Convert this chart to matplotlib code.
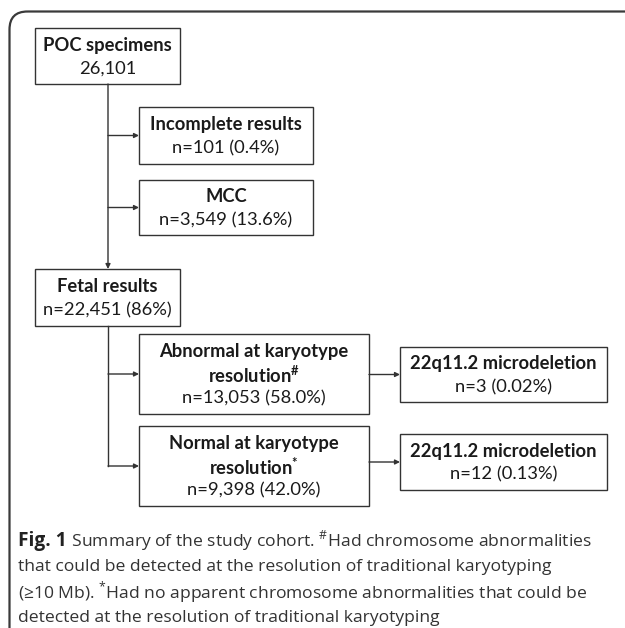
import matplotlib
matplotlib.use("Agg")
import matplotlib.pyplot as plt
from matplotlib.patches import Rectangle, FancyBboxPatch

plt.rcParams['font.family'] = ['Lato', 'DejaVu Sans']
plt.rcParams['mathtext.fontset'] = 'custom'
plt.rcParams['mathtext.rm'] = 'Open Sans'
plt.rcParams['mathtext.bf'] = 'Lato:bold'

# flowchart content
titles = ["POC specimens", "Incomplete results", "MCC", "Fetal results",
          "Abnormal at karyotype|resolution#", "Normal at karyotype|resolution*",
          "22q11.2 microdeletion", "22q11.2 microdeletion"]
counts = [26101, 101, 3549, 22451, 13053, 9398, 3, 12]
percents = [None, "0.4%", "13.6%", "86%", "58.0%", "42.0%", "0.02%", "0.13%"]

caption_bold = "Fig. 1"
caption_lines = [
    " Summary of the study cohort. $^{\\#}$Had chromosome abnormalities",
    "that could be detected at the resolution of traditional karyotyping",
    "(\u226510 Mb). $^{*}$Had no apparent chromosome abnormalities that could be",
    "detected at the resolution of traditional karyotyping",
]

# box geometry in pixels: x0, y0, x1, y1
boxes = [
    (35, 28, 180, 84),
    (139, 107, 313, 164),
    (139, 180, 313, 235),
    (35, 269, 180, 326),
    (139, 334, 369, 414),
    (139, 426, 369, 506),
    (400, 347, 607, 402),
    (400, 434, 607, 490),
]

W, H = 625, 628
fig = plt.figure(figsize=(W / 100, H / 100), dpi=100)
ax = fig.add_axes([0, 0, 1, 1])
ax.set_xlim(0, W)
ax.set_ylim(H, 0)
ax.axis('off')

edge = '#333333'
txt = '#1a1a1a'

# outer rounded frame (runs off the right and bottom edges)
frame = FancyBboxPatch((9.5, 11.5), 800, 800, boxstyle="round,pad=0,rounding_size=18",
                       fill=False, edgecolor='#3a3a3a', linewidth=1.6, clip_on=True)
ax.add_patch(frame)

fs = 13.2
line_gap = 23.5
for (x0, y0, x1, y1), title, n, pct in zip(boxes, titles, counts, percents):
    ax.add_patch(Rectangle((x0, y0), x1 - x0, y1 - y0, fill=False,
                           edgecolor=edge, linewidth=1.0))
    rows = []
    for part in title.split('|'):
        if part.endswith('#'):
            rows.append((part[:-1] + r"$^{\mathbf{\#}}$", 'bold'))
        elif part.endswith('*'):
            rows.append((part[:-1] + r"$^{\mathbf{*}}$", 'bold'))
        else:
            rows.append((part, 'bold'))
    if pct is None:
        rows.append((f"{n:,}", 'normal'))
    else:
        rows.append((f"n={n:,} ({pct})", 'normal'))
    cx = (x0 + x1) / 2
    cy = (y0 + y1) / 2 + 1
    k = len(rows)
    for i, (s, w) in enumerate(rows):
        yy = cy + (i - (k - 1) / 2) * line_gap
        ax.text(cx, yy, s, ha='center', va='center', fontsize=fs,
                fontweight=w, color=txt)

arrow = dict(arrowstyle='-|>', color=edge, lw=1.0, mutation_scale=7,
             shrinkA=0, shrinkB=0)
trunk_x = 108

# trunk from POC down to Fetal results
ax.annotate('', xy=(trunk_x, boxes[3][1]), xytext=(trunk_x, boxes[0][3]), arrowprops=arrow)
for b in (boxes[1], boxes[2]):
    yy = (b[1] + b[3]) / 2
    ax.annotate('', xy=(b[0], yy), xytext=(trunk_x, yy), arrowprops=arrow)

# trunk from Fetal results to the two karyotype boxes
ylast = (boxes[5][1] + boxes[5][3]) / 2
ax.plot([trunk_x, trunk_x], [boxes[3][3], ylast], color=edge, lw=1.0)
for b in (boxes[4], boxes[5]):
    yy = (b[1] + b[3]) / 2
    ax.annotate('', xy=(b[0], yy), xytext=(trunk_x, yy), arrowprops=arrow)

# karyotype boxes -> microdeletion boxes
for src, dst in ((boxes[4], boxes[6]), (boxes[5], boxes[7])):
    yy = (dst[1] + dst[3]) / 2
    ax.annotate('', xy=(dst[0], yy), xytext=(src[2], yy), arrowprops=arrow)

# caption
cap_font = ['Open Sans', 'DejaVu Sans']
cap_x = 18
cap_y0 = 541
cap_gap = 25.7
cap_col = '#333333'
cap_fs = 12.6
t = ax.text(cap_x, cap_y0, caption_bold, fontsize=cap_fs + 1.2, fontweight='bold',
            family=cap_font, color='#222222', va='center', ha='left')
fig.canvas.draw()
bb = t.get_window_extent()
inv = ax.transData.inverted()
x_after = inv.transform((bb.x1, bb.y0))[0]
for i, s in enumerate(caption_lines):
    xx = x_after if i == 0 else cap_x
    ax.text(xx, cap_y0 + i * cap_gap, s, fontsize=cap_fs, fontweight='normal',
            family=cap_font, color=cap_col, va='center', ha='left')

fig.savefig("out.png", dpi=100)
